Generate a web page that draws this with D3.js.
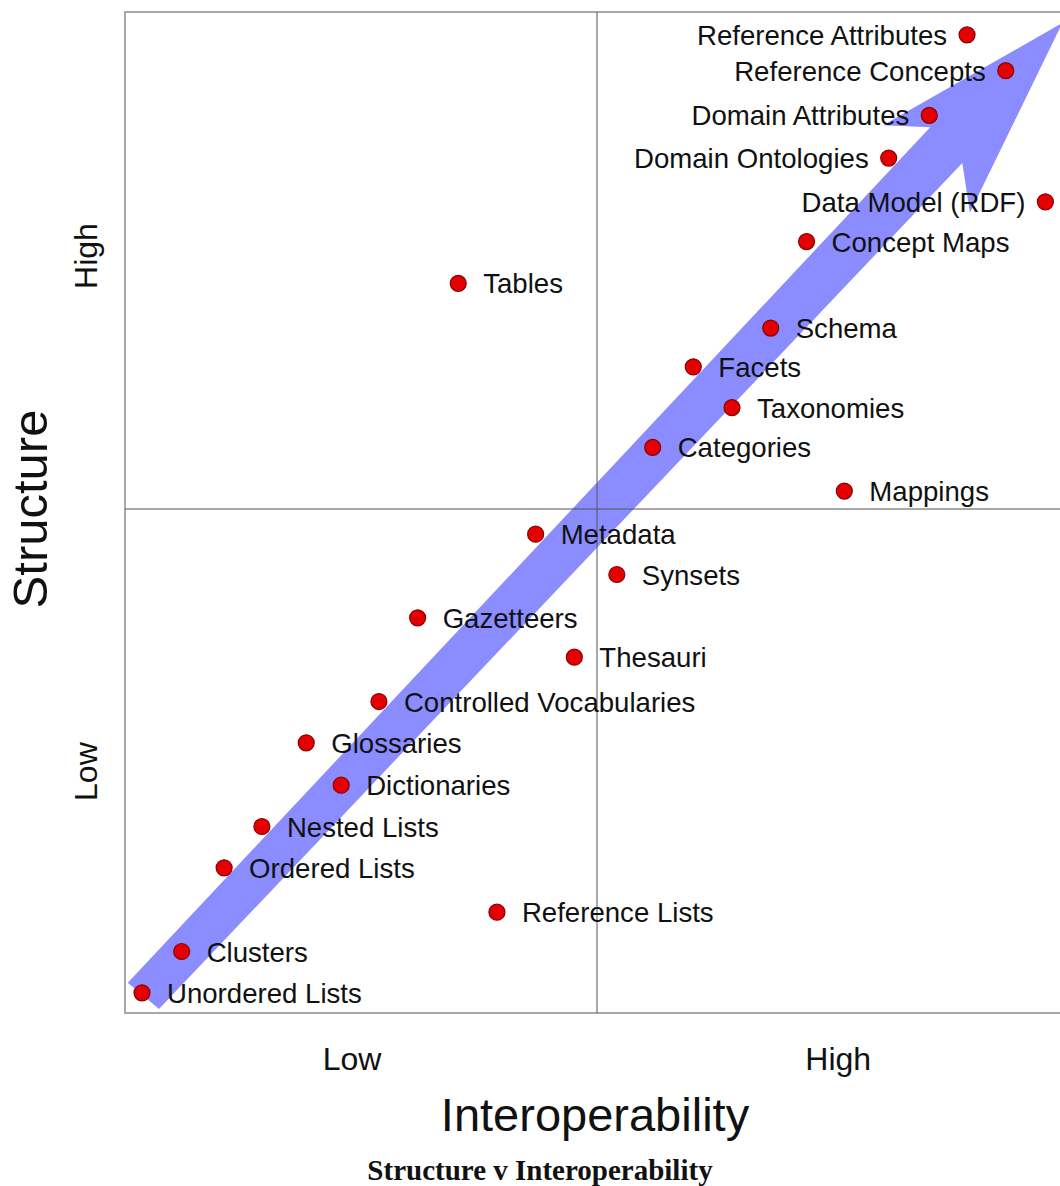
<!DOCTYPE html>
<html>
<head>
<meta charset="utf-8">
<script src="https://cdn.jsdelivr.net/npm/d3@7"></script>
<style>
  html, body { margin: 0; padding: 0; background: #fff; }
  svg { display: block; }
</style>
</head>
<body>
<svg id="chart" width="1060" height="1186"></svg>
<script>
// ---- data ----
const names = [
  "Reference Attributes", "Reference Concepts", "Domain Attributes", "Domain Ontologies",
  "Data Model (RDF)", "Concept Maps", "Tables", "Schema", "Facets", "Taxonomies",
  "Categories", "Mappings", "Metadata", "Synsets", "Gazetteers", "Thesauri",
  "Controlled Vocabularies", "Glossaries", "Dictionaries", "Nested Lists",
  "Ordered Lists", "Reference Lists", "Clusters", "Unordered Lists"
];
const interoperability = [
  89.2, 93.3, 85.2, 80.9, 97.5, 72.2, 35.3, 68.4, 60.2, 64.3,
  55.9, 76.2, 43.5, 52.1, 31.0, 47.6, 26.9, 19.2, 22.9, 14.5,
  10.5, 39.4, 6.0, 1.8
];
const structure = [
  97.7, 94.1, 89.6, 85.3, 80.9, 76.9, 72.7, 68.2, 64.3, 60.2,
  56.2, 51.8, 47.5, 43.5, 39.2, 35.3, 30.9, 26.8, 22.6, 18.5,
  14.4, 10.0, 6.1, 2.0
];
const labelSide = [
  "left", "left", "left", "left", "left", "right", "right", "right", "right", "right",
  "right", "right", "right", "right", "right", "right", "right", "right", "right", "right",
  "right", "right", "right", "right"
];
// trend arrow outline (interoperability, structure)
const arrowX = [0.3, 85.3, 80.3, 99.3, 89.5, 88.7, 3.6];
const arrowY = [3.0, 88.4, 88.6, 98.9, 79.8, 84.8, 0.4];

const tickValues = [24, 75.5];
const tickLabels = ["Low", "High"];
const xTitle = "Interoperability";
const yTitle = "Structure";
const chartTitle = "Structure v Interoperability";

// ---- layout ----
const svg = d3.select("#chart");
const xs = d3.scaleLinear().domain([0, 50, 100]).range([125, 597, 1069]);
const ys = d3.scaleLinear().domain([0, 50, 100]).range([1013, 509, 12]);

// arrow
const arrowPts = arrowX.map((x, i) => [xs(x), ys(arrowY[i])]);
svg.append("polygon")
  .attr("points", arrowPts.map(p => p.join(",")).join(" "))
  .attr("fill", "#8a8cff");

// frame
svg.append("rect")
  .attr("x", xs(0)).attr("y", ys(100))
  .attr("width", xs(100) - xs(0)).attr("height", ys(0) - ys(100))
  .attr("fill", "none").attr("stroke", "#a8a8a8").attr("stroke-width", 2);

// quadrant lines
svg.append("line")
  .attr("x1", xs(50)).attr("x2", xs(50)).attr("y1", ys(100)).attr("y2", ys(0))
  .attr("stroke", "#555").attr("stroke-width", 1);
svg.append("line")
  .attr("x1", xs(0)).attr("x2", xs(100)).attr("y1", ys(50)).attr("y2", ys(50))
  .attr("stroke", "#555").attr("stroke-width", 1);

// axes (tick labels only)
const fmt = d => tickLabels[tickValues.indexOf(d)];
const xAxis = d3.axisBottom(xs).tickValues(tickValues).tickFormat(fmt).tickSize(0).tickPadding(0);
const gx = svg.append("g").attr("transform", `translate(0,${ys(0)})`).call(xAxis);
gx.select(".domain").remove();
gx.selectAll("text")
  .attr("y", 57).attr("dy", null)
  .attr("font-family", "'Liberation Sans', Arial, sans-serif")
  .attr("font-size", 32).attr("fill", "#111");

const yAxis = d3.axisLeft(ys).tickValues(tickValues).tickFormat(fmt).tickSize(0).tickPadding(0);
const gy = svg.append("g").attr("transform", `translate(${xs(0)},0)`).call(yAxis);
gy.select(".domain").remove();
gy.selectAll(".tick text")
  .attr("x", null).attr("dy", null)
  .attr("text-anchor", "middle")
  .attr("transform", "translate(-28,0) rotate(-90)")
  .attr("font-family", "'Liberation Sans', Arial, sans-serif")
  .attr("font-size", 32).attr("fill", "#111");

// axis titles
svg.append("text")
  .attr("x", xs(50) - 2).attr("y", 1131)
  .attr("text-anchor", "middle")
  .attr("font-family", "'Liberation Sans', Arial, sans-serif")
  .attr("font-size", 47).attr("fill", "#111")
  .text(xTitle);
svg.append("text")
  .attr("transform", `translate(47,${ys(50)}) rotate(-90)`)
  .attr("text-anchor", "middle")
  .attr("font-family", "'Liberation Sans', Arial, sans-serif")
  .attr("font-size", 49).attr("fill", "#111")
  .text(yTitle);

// chart title
svg.append("text")
  .attr("x", 540).attr("y", 1180)
  .attr("text-anchor", "middle")
  .attr("font-family", "'Liberation Serif', 'Times New Roman', serif")
  .attr("font-weight", "bold")
  .attr("font-size", 29).attr("fill", "#111")
  .text(chartTitle);

// points
const pts = names.map((n, i) => ({ name: n, x: interoperability[i], y: structure[i], side: labelSide[i] }));
const g = svg.append("g");
g.selectAll("circle").data(pts).join("circle")
  .attr("cx", d => xs(d.x)).attr("cy", d => ys(d.y)).attr("r", 8)
  .attr("fill", "#e40000").attr("stroke", "#8a0000").attr("stroke-width", 1.2);
g.selectAll("text").data(pts).join("text")
  .attr("x", d => xs(d.x) + (d.side === "left" ? -20 : 25))
  .attr("y", d => ys(d.y) + 10)
  .attr("text-anchor", d => d.side === "left" ? "end" : "start")
  .attr("font-family", "'Liberation Sans', Arial, sans-serif")
  .attr("font-size", 27.6).attr("fill", "#111")
  .text(d => d.name);
</script>
</body>
</html>
